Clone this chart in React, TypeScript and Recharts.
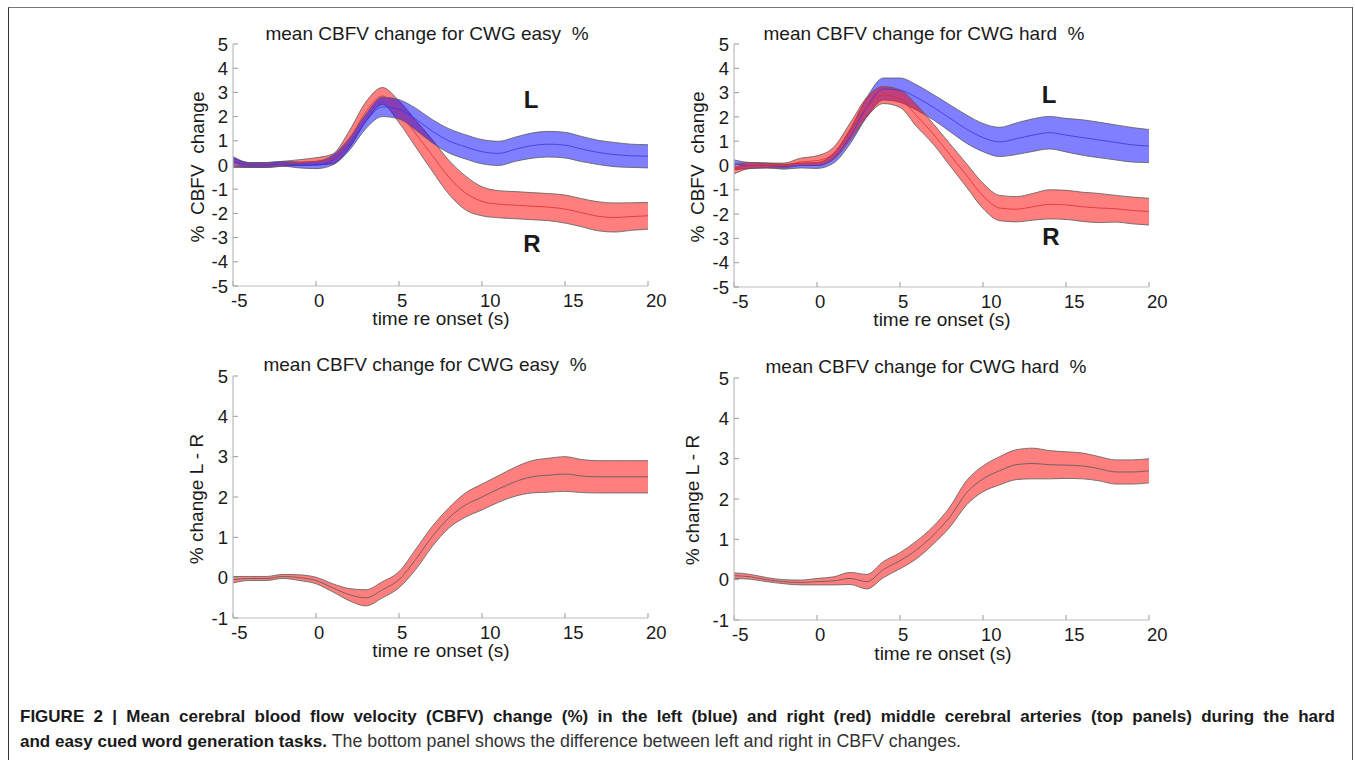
import { Area, ComposedChart, Line, XAxis, YAxis } from "recharts";

const time = [-5, -4, -3, -2, -1, 0, 1, 2, 3, 4, 5, 6, 7, 8, 9, 10, 11, 12, 13, 14, 15, 16, 17, 18, 19, 20];

// top left: easy task, left / right MCA
const easyLeftMean = [0.15, 0.0, 0.0, 0.05, 0.0, 0.0, 0.2, 0.85, 1.8, 2.4, 2.3, 1.9, 1.4, 1.0, 0.75, 0.55, 0.48, 0.65, 0.8, 0.86, 0.82, 0.66, 0.52, 0.43, 0.38, 0.36];
const easyLeftErr = [0.2, 0.1, 0.1, 0.1, 0.12, 0.15, 0.2, 0.25, 0.3, 0.4, 0.4, 0.45, 0.48, 0.5, 0.5, 0.5, 0.5, 0.5, 0.52, 0.53, 0.53, 0.52, 0.5, 0.5, 0.48, 0.48];
const easyRightMean = [0.1, 0.0, 0.0, 0.05, 0.1, 0.15, 0.25, 1.05, 2.2, 2.85, 2.2, 1.3, 0.4, -0.5, -1.15, -1.5, -1.62, -1.66, -1.7, -1.74, -1.82, -1.97, -2.12, -2.17, -2.13, -2.1];
const easyRightErr = [0.2, 0.1, 0.1, 0.1, 0.12, 0.15, 0.2, 0.35, 0.4, 0.35, 0.45, 0.55, 0.65, 0.7, 0.7, 0.6, 0.56, 0.56, 0.56, 0.56, 0.58, 0.58, 0.6, 0.6, 0.57, 0.55];

// top right: hard task
const hardLeftMean = [0.03, 0.0, 0.0, -0.05, 0.0, 0.0, 0.3, 1.2, 2.4, 3.15, 3.1, 2.8, 2.4, 1.95, 1.5, 1.15, 0.97, 1.1, 1.25, 1.35, 1.25, 1.15, 1.05, 0.95, 0.85, 0.8];
const hardLeftErr = [0.2, 0.12, 0.1, 0.1, 0.1, 0.12, 0.2, 0.3, 0.4, 0.45, 0.5, 0.52, 0.52, 0.55, 0.58, 0.58, 0.6, 0.65, 0.67, 0.67, 0.69, 0.73, 0.73, 0.72, 0.71, 0.68];
const hardRightMean = [-0.15, 0.0, 0.0, 0.0, 0.15, 0.2, 0.5, 1.4, 2.4, 2.9, 2.75, 2.05, 1.3, 0.45, -0.4, -1.25, -1.75, -1.8, -1.7, -1.6, -1.62, -1.7, -1.75, -1.78, -1.85, -1.9];
const hardRightErr = [0.2, 0.12, 0.1, 0.1, 0.15, 0.2, 0.25, 0.35, 0.4, 0.35, 0.36, 0.45, 0.42, 0.45, 0.48, 0.52, 0.52, 0.52, 0.55, 0.6, 0.6, 0.6, 0.6, 0.55, 0.55, 0.55];

// bottom: L - R difference
const easyDiffMean = [-0.05, -0.02, -0.02, 0.03, 0.0, -0.07, -0.25, -0.42, -0.5, -0.3, -0.05, 0.45, 1.02, 1.48, 1.8, 2.0, 2.2, 2.38, 2.5, 2.54, 2.57, 2.52, 2.5, 2.5, 2.5, 2.5];
const easyDiffErr = [0.08, 0.05, 0.05, 0.05, 0.07, 0.08, 0.1, 0.15, 0.2, 0.2, 0.2, 0.25, 0.25, 0.25, 0.3, 0.32, 0.33, 0.36, 0.4, 0.42, 0.43, 0.41, 0.4, 0.4, 0.4, 0.4];
const hardDiffMean = [0.1, 0.07, 0.0, -0.05, -0.07, -0.05, -0.03, 0.03, -0.05, 0.25, 0.47, 0.74, 1.1, 1.55, 2.15, 2.5, 2.7, 2.85, 2.88, 2.85, 2.84, 2.82, 2.75, 2.67, 2.67, 2.7];
const hardDiffErr = [0.07, 0.06, 0.05, 0.05, 0.06, 0.08, 0.1, 0.15, 0.18, 0.2, 0.2, 0.22, 0.22, 0.25, 0.3, 0.32, 0.35, 0.37, 0.38, 0.35, 0.33, 0.32, 0.3, 0.3, 0.3, 0.3];

const xTicks = [-5, 0, 5, 10, 15, 20];
const topYTicks = [-5, -4, -3, -2, -1, 0, 1, 2, 3, 4, 5];
const bottomYTicks = [-1, 0, 1, 2, 3, 4, 5];

const FONT = "'Liberation Sans', Arial, sans-serif";
const TICK_SIZE = 18.5;
const RED = "#ff0000";
const BLUE = "#0000ff";

type Band = { name: string; mean: number[]; err: number[]; fill: string; line: string };
type Box = { x: number; y: number; w: number; h: number };

const buildRows = (bands: Band[]) =>
    time.map((t, i) => {
        const row: Record<string, any> = { t };
        bands.forEach((b) => {
            row[b.name] = b.mean[i];
            row[b.name + "Band"] = [b.mean[i] - b.err[i], b.mean[i] + b.err[i]];
        });
        return row;
    });

// matlab puts the x labels starting at the tick, not centred on it
const XTick = ({ x, y, payload }: any) => (
    <text x={x - 2} y={y + 13.5} textAnchor="start" fontSize={TICK_SIZE} fontFamily={FONT} fill="#1a1a1a">
        {payload.value}
    </text>
);

const YTick = ({ x, y, payload }: any) => (
    <text x={x} y={y + 6.6} textAnchor="end" fontSize={TICK_SIZE} fontFamily={FONT} fill="#1a1a1a">
        {payload.value}
    </text>
);

const Panel = ({ box, bands, yTicks }: { box: Box; bands: Band[]; yTicks: number[] }) => {
    const padL = 65;
    const padR = 26;
    const padT = 10;
    const padB = 45;
    const rows = buildRows(bands);
    const yDomain = [yTicks[0], yTicks[yTicks.length - 1]];
    const axisLine = { stroke: "#bdbdbd", strokeWidth: 1.2 };
    const tickLine = { stroke: "#9a9a9a" };

    return (
        <div style={{ position: "absolute", left: box.x - padL, top: box.y - padT }}>
            <ComposedChart
                width={box.w + padL + padR}
                height={box.h + padT + padB}
                data={rows}
                margin={{ top: padT, right: padR, left: 5, bottom: 5 }}
            >
                <XAxis
                    dataKey="t"
                    type="number"
                    domain={[-5, 20]}
                    ticks={xTicks}
                    interval={0}
                    height={padB - 5}
                    tickSize={-5}
                    tickMargin={12}
                    axisLine={axisLine}
                    tickLine={tickLine}
                    tick={<XTick />}
                />
                <XAxis
                    xAxisId="top"
                    orientation="top"
                    dataKey="t"
                    type="number"
                    domain={[-5, 20]}
                    ticks={xTicks}
                    interval={0}
                    height={0}
                    tickSize={-5}
                    axisLine={axisLine}
                    tickLine={tickLine}
                    tick={false}
                />
                <YAxis
                    type="number"
                    domain={yDomain}
                    ticks={yTicks}
                    interval={0}
                    width={60}
                    tickSize={-5}
                    tickMargin={10}
                    axisLine={axisLine}
                    tickLine={tickLine}
                    tick={<YTick />}
                />
                <YAxis
                    yAxisId="right"
                    orientation="right"
                    type="number"
                    domain={yDomain}
                    ticks={yTicks}
                    interval={0}
                    width={0}
                    tickSize={-5}
                    axisLine={axisLine}
                    tickLine={tickLine}
                    tick={false}
                />
                {bands.map((b) => (
                    <Area
                        key={b.name + "Band"}
                        dataKey={b.name + "Band"}
                        type="monotone"
                        fill={b.fill}
                        fillOpacity={0.5}
                        stroke="#5a5a5a"
                        strokeWidth={0.8}
                        isAnimationActive={false}
                        activeDot={false}
                    />
                ))}
                {bands.map((b) => (
                    <Line
                        key={b.name}
                        dataKey={b.name}
                        type="monotone"
                        stroke={b.line}
                        strokeWidth={0.8}
                        dot={false}
                        activeDot={false}
                        isAnimationActive={false}
                    />
                ))}
            </ComposedChart>
        </div>
    );
};

const Txt = ({ x, y, size = 19, bold = false, rotate = false, children }: any) => (
    <div
        style={{
            position: "absolute",
            left: x,
            top: y,
            transform: `translate(-50%, -50%)${rotate ? " rotate(-90deg)" : ""}`,
            fontFamily: FONT,
            fontSize: size,
            fontWeight: bold ? "bold" : "normal",
            color: "#1a1a1a",
            whiteSpace: "pre",
            lineHeight: 0.85,
        }}
    >
        {children}
    </div>
);

const easyBands: Band[] = [
    { name: "right", mean: easyRightMean, err: easyRightErr, fill: RED, line: "#d83030" },
    { name: "left", mean: easyLeftMean, err: easyLeftErr, fill: BLUE, line: "#3838d8" },
];
const hardBands: Band[] = [
    { name: "left", mean: hardLeftMean, err: hardLeftErr, fill: BLUE, line: "#3838d8" },
    { name: "right", mean: hardRightMean, err: hardRightErr, fill: RED, line: "#d83030" },
];
const easyDiff: Band[] = [{ name: "diff", mean: easyDiffMean, err: easyDiffErr, fill: RED, line: "#555555" }];
const hardDiff: Band[] = [{ name: "diff", mean: hardDiffMean, err: hardDiffErr, fill: RED, line: "#555555" }];

export default function App() {
    return (
        <div
            style={{
                position: "absolute",
                left: 0,
                top: 0,
                width: 1355,
                height: 760,
                overflow: "hidden",
                background: "#fff",
            }}
        >
            <div
                style={{
                    position: "absolute",
                    left: 8,
                    top: 7,
                    width: 1343,
                    height: 780,
                    borderTop: "1.5px solid #777",
                    borderLeft: "1.5px solid #333",
                    borderRight: "1.5px solid #555",
                }}
            />

            <Panel box={{ x: 233, y: 44, w: 415, h: 242 }} bands={easyBands} yTicks={topYTicks} />
            <Panel box={{ x: 734, y: 44, w: 415, h: 243 }} bands={hardBands} yTicks={topYTicks} />
            <Panel box={{ x: 233, y: 376, w: 415, h: 242 }} bands={easyDiff} yTicks={bottomYTicks} />
            <Panel box={{ x: 734, y: 378, w: 415, h: 242 }} bands={hardDiff} yTicks={bottomYTicks} />

            <Txt x={427} y={34}>{"mean CBFV change for CWG easy  %"}</Txt>
            <Txt x={924} y={34}>{"mean CBFV change for CWG hard  %"}</Txt>
            <Txt x={425} y={365}>{"mean CBFV change for CWG easy  %"}</Txt>
            <Txt x={926} y={367}>{"mean CBFV change for CWG hard  %"}</Txt>

            <Txt x={441} y={319}>time re onset (s)</Txt>
            <Txt x={942} y={320}>time re onset (s)</Txt>
            <Txt x={441} y={651}>time re onset (s)</Txt>
            <Txt x={943} y={654}>time re onset (s)</Txt>

            <Txt x={198} y={167} rotate>{"%  CBFV  change"}</Txt>
            <Txt x={698} y={167} rotate>{"%  CBFV  change"}</Txt>
            <Txt x={197} y={499} rotate>{"% change L - R"}</Txt>
            <Txt x={693} y={500} rotate>{"% change L - R"}</Txt>

            <Txt x={531} y={100} size={24} bold>L</Txt>
            <Txt x={532} y={244} size={24} bold>R</Txt>
            <Txt x={1049} y={95} size={24} bold>L</Txt>
            <Txt x={1051} y={237} size={24} bold>R</Txt>

            <div
                style={{
                    position: "absolute",
                    left: 20,
                    top: 705,
                    width: 1315,
                    fontFamily: FONT,
                    color: "#1a1a1a",
                    lineHeight: "24px",
                }}
            >
                <div
                    style={{
                        fontSize: 17,
                        fontWeight: "bold",
                        textAlign: "justify",
                        textAlignLast: "justify",
                        whiteSpace: "normal",
                    }}
                >
                    FIGURE 2 | Mean cerebral blood flow velocity (CBFV) change (%) in the left (blue) and right (red)
                    middle cerebral arteries (top panels) during the hard
                </div>
                <div style={{ whiteSpace: "nowrap" }}>
                    <b style={{ fontSize: 17 }}>and easy cued word generation tasks.</b>
                    <span style={{ fontSize: 17.8, color: "#333" }}>
                        {" "}
                        The bottom panel shows the difference between left and right in CBFV changes.
                    </span>
                </div>
            </div>
        </div>
    );
}
